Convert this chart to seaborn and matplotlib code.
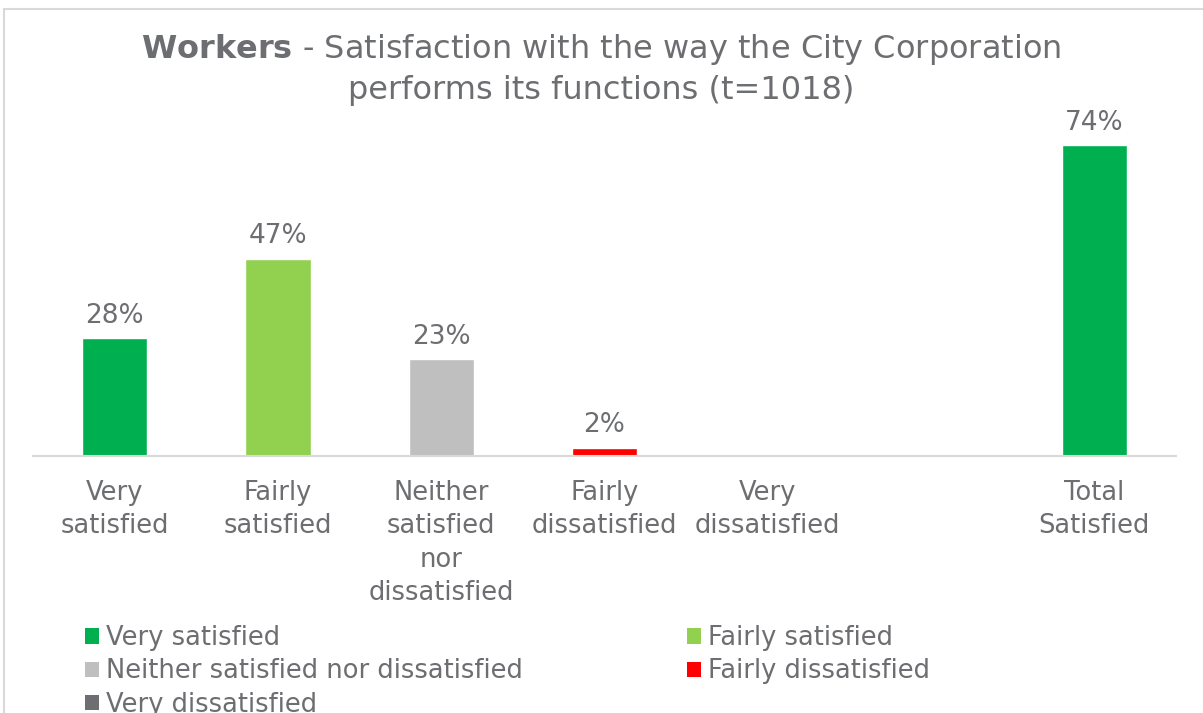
import numpy as np, pandas as pd
import seaborn as sns, matplotlib.pyplot as plt
from matplotlib.patches import Patch, Rectangle

categories = ['Very\nsatisfied', 'Fairly\nsatisfied', 'Neither\nsatisfied\nnor\ndissatisfied',
              'Fairly\ndissatisfied', 'Very\ndissatisfied', ' ', 'Total\nSatisfied']
values = [28, 47, 23, 2, 0, np.nan, 74]
bar_colors = ['#00B050', '#92D050', '#BFBFBF', '#FF0000', '#6D6E71', '#FFFFFF', '#00B050']
legend_labels = ['Very satisfied', 'Fairly satisfied', 'Neither satisfied nor dissatisfied',
                 'Fairly dissatisfied', 'Very dissatisfied']
legend_colors = bar_colors[:5]

txt = '#6D6E71'
sns.set_theme(style='white')
plt.rcParams['font.family'] = ['DejaVu Sans']

df = pd.DataFrame({'cat': categories, 'val': values})

fig = plt.figure(figsize=(12.03, 7.13), dpi=100)
ax = fig.add_axes([33/1203, 1-456/713, 1143/1203, 336/713])
sns.barplot(data=df, x='cat', y='val', hue='cat', palette=bar_colors, legend=False,
            width=0.4, saturation=1, ax=ax)
ax.set_xlim(-0.5, 6.5)
ax.set_ylim(0, 80)
for i, v in enumerate(values):
    if not np.isnan(v) and v > 0:
        ax.text(i, v + 2.3, f'{v:.0f}%', ha='center', va='bottom', fontsize=19, color=txt)

ax.set_xlabel('')
ax.set_ylabel('')
ax.set_yticks([])
ax.tick_params(axis='x', length=0, pad=17, labelsize=18.5, labelcolor=txt)
for lab in ax.get_xticklabels():
    lab.set_linespacing(1.38)
for s in ['top', 'left', 'right']:
    ax.spines[s].set_visible(False)
ax.spines['bottom'].set_color('#D9D9D9')
ax.spines['bottom'].set_linewidth(1.5)

fig.text(0.5, 1-69/713, r'$\bf{Workers}$ - Satisfaction with the way the City Corporation' + '\nperforms its functions (t=1018)',
         ha='center', va='center', fontsize=23, color=txt, linespacing=1.3)

# legend fills column-first, so reorder to read row by row
order = [0, 2, 4, 1, 3]
handles = [Patch(facecolor=legend_colors[k], edgecolor='none') for k in order]
labels = [legend_labels[k] for k in order]
fig.legend(handles, labels, ncol=2, loc='upper left', bbox_to_anchor=(80/1203, 1-620/713),
           frameon=False, fontsize=18.5, labelcolor=txt, handlelength=0.55, handleheight=0.55,
           handletextpad=0.25, columnspacing=6.4, labelspacing=0.28, borderaxespad=0, borderpad=0.2)

fig.add_artist(Rectangle((4/1203, -0.1), 1.2, 1.1 - 9/713, transform=fig.transFigure,
                         fill=False, edgecolor='#D9D9D9', linewidth=1.5))

plt.savefig('out.png', dpi=100)
